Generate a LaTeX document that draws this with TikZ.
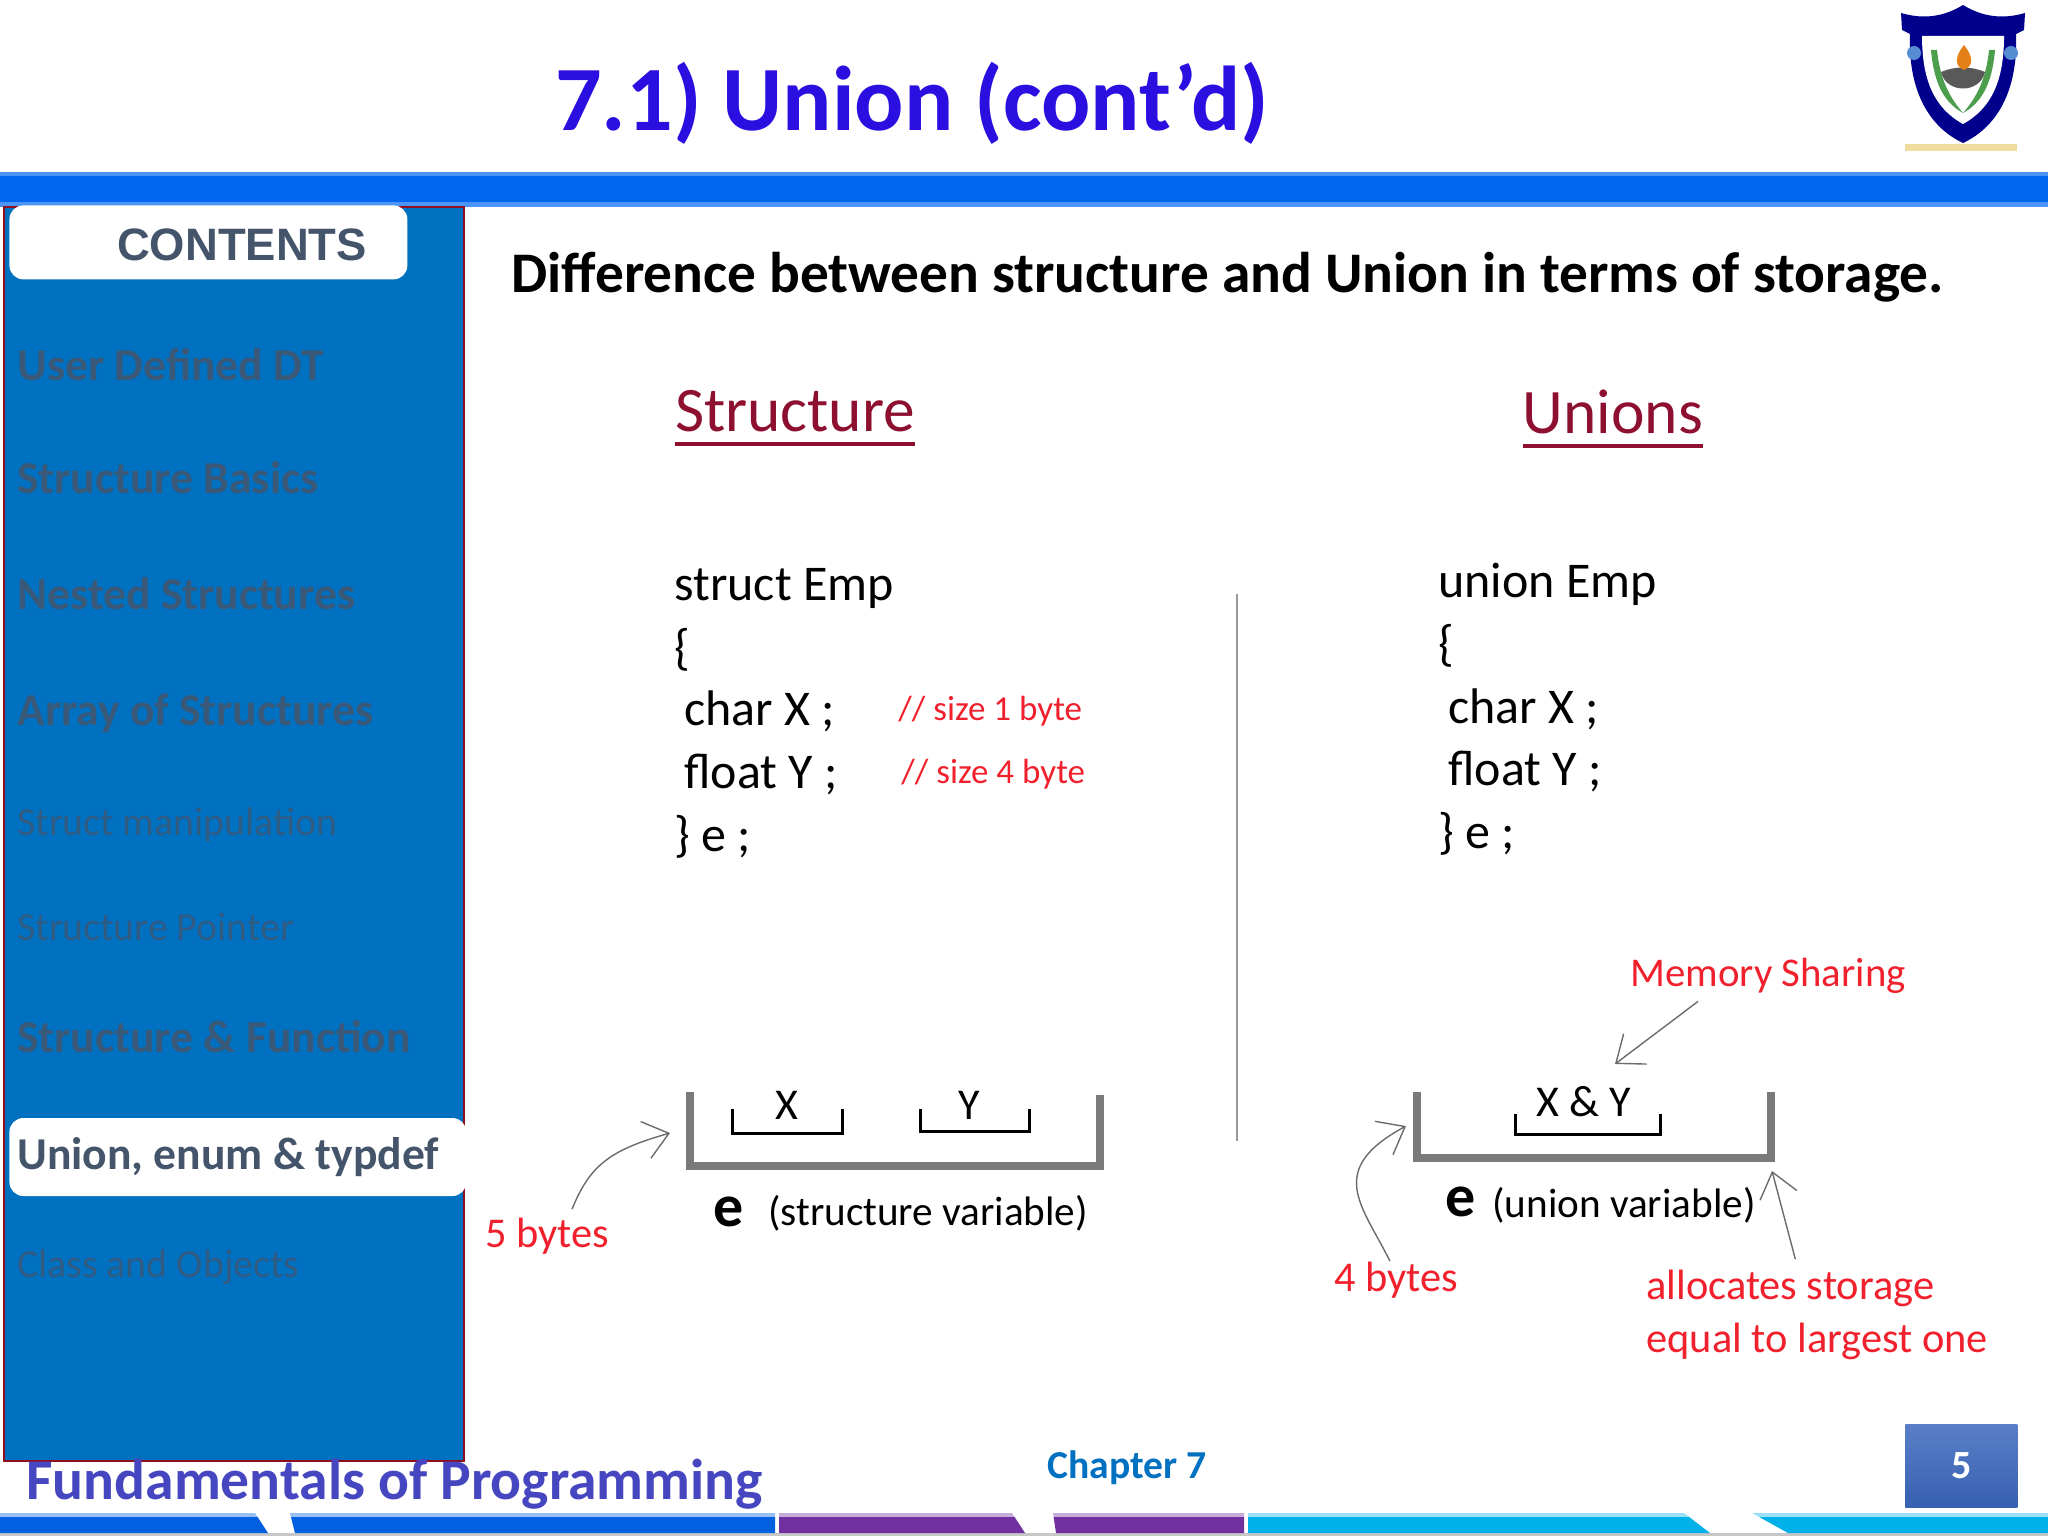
\documentclass[tikz,border=0pt]{standalone}
\usepackage{xcolor}
\usepackage{fontspec}
\setmainfont{Carlito}
\newfontfamily\helvfont{Liberation Sans}
\usepackage{tikz}
\usetikzlibrary{shapes,arrows.meta,positioning,calc}
\definecolor{barblue}{HTML}{0066F0}
\definecolor{sideblue}{HTML}{0070C0}
\definecolor{sideedge}{HTML}{8E1020}
\definecolor{slate}{HTML}{44546A}
\definecolor{titleblue}{HTML}{2A0FE0}
\definecolor{headred}{HTML}{8E1030}
\definecolor{notered}{HTML}{F0202C}
\definecolor{fopblue}{HTML}{4646C0}
\definecolor{stripblue}{HTML}{0060E0}
\definecolor{strippurple}{HTML}{7030A0}
\definecolor{stripcyan}{HTML}{00B0E8}
\definecolor{pagetop}{HTML}{5A7FC8}
\definecolor{pagebot}{HTML}{3560B0}
\tikzset{
  txt/.style={inner sep=0pt, anchor=base},
  menubold/.style={txt, anchor=base west, text=slate!85!sideblue, font=\fontsize{22.8}{27}\selectfont\bfseries},
  menuthin/.style={txt, anchor=base west, text=slate!70!sideblue, font=\fontsize{19.9}{24}\selectfont},
  code/.style={txt, anchor=base west, font=\fontsize{25}{30}\selectfont},
  sizenote/.style={txt, anchor=base west, text=notered, font=\fontsize{17.5}{21}\selectfont},
  note/.style={txt, text=notered, font=\fontsize{21.2}{25}\selectfont},
  head/.style={txt, text=headred, font=\fontsize{31.7}{38}\selectfont},
  memlabel/.style={txt, font=\fontsize{22}{26}\selectfont},
  varname/.style={txt, font=\fontsize{20.6}{25}\selectfont},
  varletter/.style={txt, font=\fontsize{30}{36}\selectfont\bfseries},
  pointer/.style={draw=black!58, line width=0.7pt, -{Straight Barb[length=12pt, width=19pt, line width=0.7pt]}},
  tray/.style={draw=black!52, line width=4pt, line cap=butt, line join=miter},
  slot/.style={draw=black, line width=1.5pt},
  whitebox/.style={fill=white, rounded corners=7pt, inner sep=0pt}
}
\begin{document}
\begin{tikzpicture}[x=0.5pt, y=-0.5pt]
    \useasboundingbox (0,0) rectangle (2048,1536);
    % title and top bar
    \node [txt, text=titleblue, font=\fontsize{46}{52}\selectfont\bfseries] (title) at (912,130) {7.1) Union (cont’d)};
    \fill [barblue!70!white] (0,172) rectangle (2048,207);
    \fill [barblue] (0,176) rectangle (2048,202);
    % crest
    \fill [blue!55!black] (1963,5) .. controls (1945,16) and (1925,20) .. (1901,13) -- (1902,30) -- (1910,34) .. controls (1908,85) and (1925,125) .. (1963,143) .. controls (2001,125) and (2018,85) .. (2016,34) -- (2024,30) -- (2025,13) .. controls (2001,20) and (1981,16) .. (1963,5) -- cycle;
    \fill [white] (1922,36) -- (2004,36) .. controls (2004,80) and (1992,108) .. (1963,124) .. controls (1934,108) and (1922,80) .. (1922,36) -- cycle;
    \fill [cyan!50!blue!70] (1914,53) circle (3.5pt);
    \fill [cyan!50!blue!70] (2011,53) circle (3.5pt);
    \fill [green!45!black!70] (1931,50) .. controls (1934,85) and (1945,103) .. (1963,113) .. controls (1950,98) and (1940,80) .. (1937,50) -- cycle;
    \fill [green!45!black!70] (1995,50) .. controls (1992,85) and (1981,103) .. (1963,113) .. controls (1976,98) and (1986,80) .. (1989,50) -- cycle;
    \fill [black!65] (1941,72) .. controls (1955,66) and (1971,66) .. (1985,72) .. controls (1980,94) and (1946,94) .. (1941,72) -- cycle;
    \fill [orange!60!brown] (1964,45) .. controls (1973,56) and (1974,66) .. (1964,70) .. controls (1954,66) and (1955,56) .. (1964,45) -- cycle;
    \fill [yellow!40!brown!45] (1905,144) rectangle (2017,151);
    % side panel
    \node [draw=sideedge, fill=sideblue, line width=1pt, anchor=north west, minimum width=230pt, minimum height=627pt, inner sep=0pt] (panel) at (3,206) {};
    \node [whitebox, anchor=north west, minimum width=199pt, minimum height=37pt] (cbox) at (9,205) {};
    \node [txt, text=slate, font=\helvfont\fontsize{22.7}{27}\selectfont\bfseries] (clabel) at (242,260) {CONTENTS};
    \node [menubold] (m1) at (17,380) {User Defined DT};
    \node [menubold, below=56.5pt of m1.base west, anchor=base west] (m2) {Structure Basics};
    \node [menubold, below=58pt of m2.base west, anchor=base west] (m3) {Nested Structures};
    \node [menubold, below=58pt of m3.base west, anchor=base west] (m4) {Array of Structures};
    \node [menuthin, below=55pt of m4.base west, anchor=base west] (m5) {Struct manipulation};
    \node [menuthin, below=52.5pt of m5.base west, anchor=base west] (m6) {Structure Pointer};
    \node [menubold, below=56pt of m6.base west, anchor=base west] (m7) {Structure \& Function};
    \node [whitebox, anchor=west, minimum width=228.5pt, minimum height=39pt] (ubox) at (9,1157) {};
    \node [menubold, text=slate] (m8) at (17,1169) {Union, enum \& typdef};
    \node [menuthin] (m9) at (17,1277) {Class and Objects};
    % heading of the slide
    \node [txt, anchor=base west, font=\fontsize{28.7}{34}\selectfont\bfseries] (intro) at (511,292) {Difference between structure and Union in terms of storage.};
    % left column
    \node [head] (shead) at (795,431) {Structure};
    \draw [headred, line width=2pt] ($(shead.base west)+(0,13)$) -- ($(shead.base east)+(0,13)$);
    \node [code] (s1) at (674,600) {struct Emp};
    \node [code, below=32pt of s1.base west, anchor=base west] (s2) {\{};
    \node [code, below=30.5pt of s2.base west, anchor=base west, xshift=5pt] (s3) {char X ;};
    \node [code, below=31.5pt of s3.base west, anchor=base west] (s4) {float Y ;};
    \node [code, below=31.5pt of s4.base west, anchor=base west, xshift=-5pt] (s5) {\} e ;};
    \node [sizenote] (sz1) at (898,720) {// size 1 byte};
    \node [sizenote] (sz2) at (901,783) {// size 4 byte};
    % right column
    \node [head] (uhead) at (1613,433) {Unions};
    \draw [headred, line width=2pt] ($(uhead.base west)+(0,13)$) -- ($(uhead.base east)+(0,13)$);
    \node [code] (u1) at (1438,597) {union Emp};
    \node [code, below=31.5pt of u1.base west, anchor=base west] (u2) {\{};
    \node [code, below=31.5pt of u2.base west, anchor=base west, xshift=5pt] (u3) {char X ;};
    \node [code, below=31pt of u3.base west, anchor=base west] (u4) {float Y ;};
    \node [code, below=31.5pt of u4.base west, anchor=base west, xshift=-5pt] (u5) {\} e ;};
    \draw [black!40, line width=0.8pt] (1237,594) -- (1237,1141);
    % structure memory
    \draw [tray] (690,1092) -- (690,1166) -- (1100,1166) -- (1100,1095);
    \draw [slot] (732,1109) -- (732,1133) -- (842,1133) -- (842,1109);
    \draw [slot] (920,1109) -- (920,1131) -- (1029,1131) -- (1029,1109);
    \node [memlabel] (sx) at (787,1119) {X};
    \node [memlabel] (sy) at (969,1119) {Y};
    \node [varletter] (se) at (729,1226) {e};
    \node [varname] (sv) at (928,1225) {(structure variable)};
    \node [note] (five) at (547,1247) {5 bytes};
    \coordinate (fivetip) at (670,1133);
    \draw [pointer] ([xshift=12.5pt,yshift=4pt]five.north) .. controls (590,1165) and (610,1150) .. (fivetip);
    % union memory
    \draw [tray] (1417,1092) -- (1417,1158) -- (1771,1158) -- (1771,1092);
    \draw [slot] (1515,1114) -- (1515,1134) -- (1660,1134) -- (1660,1114);
    \node [memlabel] (uxy) at (1584,1116) {X \& Y};
    \node [varletter] (ue) at (1461,1216) {e};
    \node [varname] (uv) at (1624,1217) {(union variable)};
    \node [note, font=\fontsize{20.4}{25}\selectfont] (mem) at (1768,986) {Memory Sharing};
    \coordinate (memtip) at (1615,1064);
    \draw [pointer] ([xshift=-35pt,yshift=-4pt]mem.south) -- (memtip);
    \node [note] (four) at (1396,1291) {4 bytes};
    \coordinate (fourtip) at (1406,1126);
    \draw [pointer] ([xshift=-3pt]four.north) .. controls (1362,1205) and (1325,1170) .. (fourtip);
    \node [note, anchor=base west] (alloc1) at (1646,1299) {allocates storage};
    \node [note, anchor=base west] (alloc2) at (1646,1352) {equal to largest one};
    \coordinate (alloctip) at (1772,1171);
    \draw [pointer] ([xshift=2.5pt,yshift=5pt]alloc1.north) -- (alloctip);
    % footer
    \node [txt, anchor=base west, text=fopblue, font=\fontsize{28.8}{34}\selectfont\bfseries] (fop) at (26,1499) {Fundamentals of Programming};
    \node [txt, text=sideblue, font=\fontsize{19.8}{24}\selectfont\bfseries] (chap) at (1127,1478) {Chapter 7};
    \node [top color=pagetop, bottom color=pagebot, anchor=north west, minimum width=56pt, minimum height=41.5pt, inner sep=0pt, text=white, font=\fontsize{20}{24}\selectfont\bfseries] (page) at (1905,1424) {5};
    \fill [black!22] (0,1533) rectangle (2048,1536);
    \fill [stripblue] (0,1513) -- (255,1513) -- (268,1533) -- (0,1533) -- cycle;
    \fill [stripblue] (290,1513) -- (775,1513) -- (775,1533) -- (295,1533) -- cycle;
    \fill [strippurple] (779,1513) -- (1012,1513) -- (1025,1533) -- (779,1533) -- cycle;
    \fill [strippurple] (1053,1513) -- (1244,1513) -- (1244,1533) -- (1056,1533) -- cycle;
    \fill [stripcyan] (1248,1513) -- (1684,1513) -- (1710,1533) -- (1248,1533) -- cycle;
    \fill [stripcyan] (1752,1513) -- (2048,1513) -- (2048,1533) -- (1788,1533) -- cycle;
    \fill [white, opacity=0.6] (0,1513) rectangle (2048,1517);
\end{tikzpicture}
\end{document}
